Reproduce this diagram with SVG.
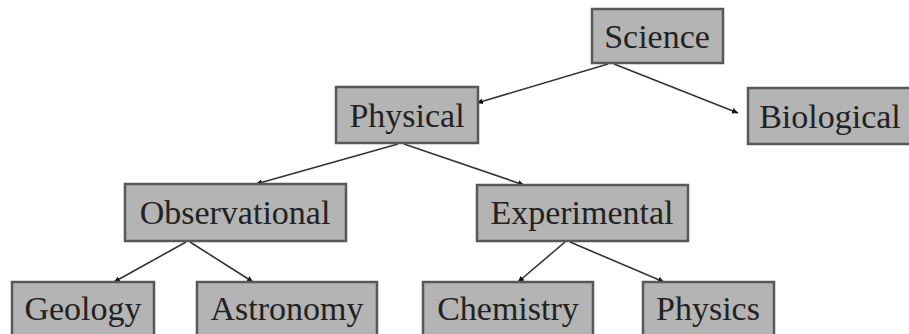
<svg xmlns="http://www.w3.org/2000/svg" width="909" height="334" viewBox="0 0 909 334">
<style>
.box{fill:#b4b4b4;stroke:#585858;stroke-width:2.5}
.lbl{font-family:"Liberation Serif","Times New Roman",serif;font-size:34px;fill:#222;text-anchor:middle}
.edge{stroke:#333;stroke-width:1.6;fill:none;marker-end:url(#ah)}
</style>
<defs>
<marker id="ah" viewBox="0 0 10 10" refX="10" refY="5" markerWidth="6" markerHeight="6" markerUnits="userSpaceOnUse" orient="auto">
<path d="M0,0 L10,5 L0,10 z" fill="#111"/>
</marker>
</defs>
<rect width="909" height="334" fill="#fff"/>
<g id="connectors">
<line class="edge" x1="608" y1="64" x2="477" y2="103"/>
<line class="edge" x1="614" y1="64" x2="738" y2="113"/>
<line class="edge" x1="398" y1="144" x2="256" y2="184"/>
<line class="edge" x1="404" y1="144" x2="524" y2="185"/>
<line class="edge" x1="186" y1="242" x2="114" y2="282"/>
<line class="edge" x1="190" y1="242" x2="253" y2="282"/>
<line class="edge" x1="565" y1="242" x2="518" y2="282"/>
<line class="edge" x1="570" y1="242" x2="664" y2="282"/>
</g>
<g id="science"><rect class="box" x="592" y="9" width="131" height="54"/><text class="lbl" x="657" y="48">Science</text></g>
<g id="biological"><rect class="box" x="748" y="88" width="166" height="56"/><text class="lbl" x="830" y="128">Biological</text></g>
<g id="physical"><rect class="box" x="336" y="87" width="142" height="56"/><text class="lbl" x="407" y="127">Physical</text></g>
<g id="observational"><rect class="box" x="125" y="184" width="221" height="57"/><text class="lbl" x="235" y="224">Observational</text></g>
<g id="experimental"><rect class="box" x="477" y="185" width="211" height="56"/><text class="lbl" x="582" y="224">Experimental</text></g>
<g id="geology"><rect class="box" x="12" y="282" width="142" height="60"/><text class="lbl" x="83" y="320">Geology</text></g>
<g id="astronomy"><rect class="box" x="197" y="282" width="180" height="60"/><text class="lbl" x="287" y="320">Astronomy</text></g>
<g id="chemistry"><rect class="box" x="423" y="282" width="170" height="60"/><text class="lbl" x="508" y="320">Chemistry</text></g>
<g id="physics"><rect class="box" x="643" y="282" width="131" height="60"/><text class="lbl" x="708" y="320">Physics</text></g>
</svg>
